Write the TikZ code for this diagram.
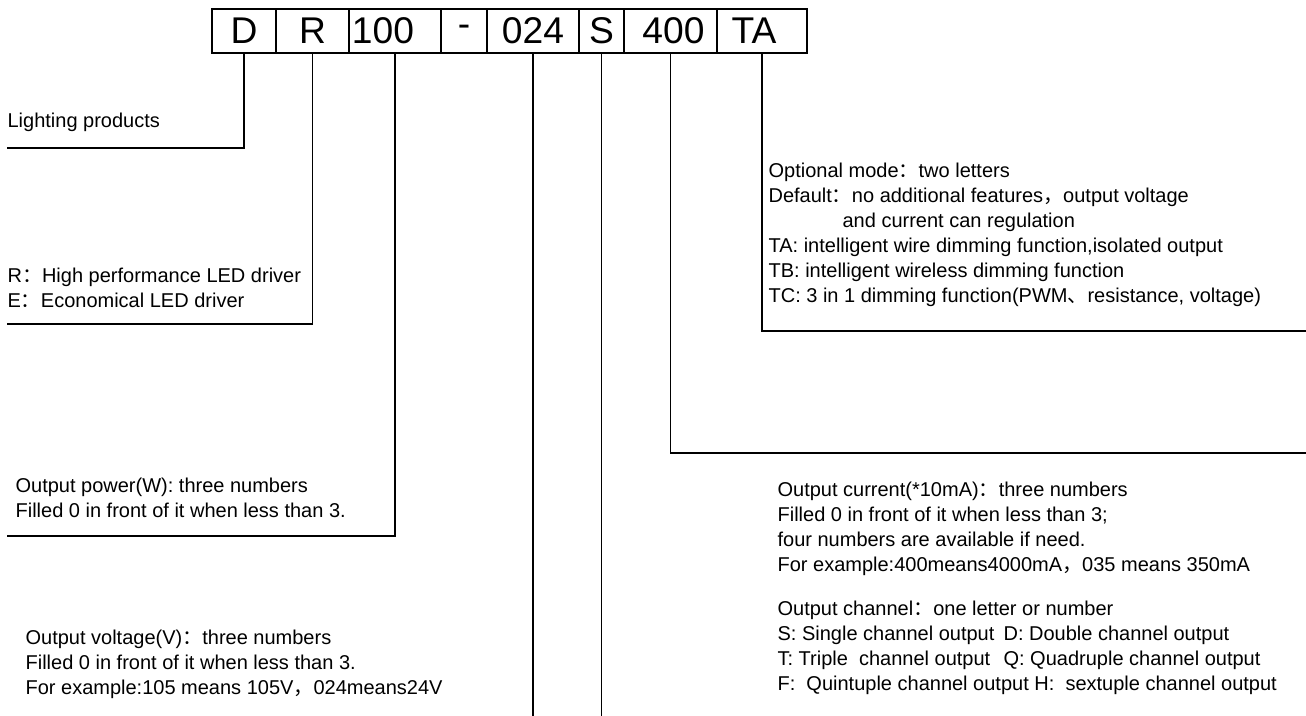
\documentclass[tikz,border=0pt]{standalone}
\usepackage{fontspec}
\setmainfont{Liberation Sans}
\newfontfamily\cjk{Noto Sans CJK SC}
\usetikzlibrary{positioning}
\newcommand{\fcolon}{{\cjk ：}} % full width colon
\newcommand{\fcomma}{{\cjk ，}} % full width comma
\newcommand{\fdun}{{\cjk 、}}
\tikzset{
  x=0.5pt, y=-0.5pt, % one unit is one pixel of the layout, y runs down
  every path/.style={line width=0.6pt},
  node distance=0pt, % the code cells touch each other
  cell/.style={draw, minimum height=22pt, inner sep=0pt, outer sep=0pt,
    font=\fontsize{18.6}{20}\selectfont}, % one field of the model code
  note/.style={anchor=west, align=left, inner sep=0pt,
    font=\fontsize{10}{12.5}\selectfont}, % explanation texts
}

\begin{document}
\begin{tikzpicture}
  \useasboundingbox (0,0) rectangle (1306,716);

  % the model code
  \node[cell, minimum width=32pt, anchor=north west] (d) at (212,9) {D};
  \node[cell, minimum width=36.5pt, right=of d] (r) {R};
  \node[cell, minimum width=46pt, right=of r] (p) {100\kern12pt};
  \node[cell, minimum width=23pt, right=of p] (dash) {-};
  \node[cell, minimum width=46pt, right=of dash] (v) {024};
  \node[cell, minimum width=22.5pt, right=of v] (s) {S};
  \node[cell, minimum width=46.5pt, right=of s] (i) {\kern3pt400};
  \node[cell, minimum width=45pt, right=of i] (t) {TA\kern8pt};

  % explanations
  \node[note] (light) at (7,122) {Lighting products};
  \node[note] (series) at (7,287.5) {R\fcolon High performance LED driver\\
    E\fcolon Economical LED driver};
  \node[note] (power) at (15,497.5) {Output power(W): three numbers\\
    Filled 0 in front of it when less than 3.};
  \node[note] (volt) at (25,664) {Output voltage(V)\fcolon three numbers\\
    Filled 0 in front of it when less than 3.\\
    For example:105 means 105V\fcomma 024means24V};
  \node[note] (mode) at (768,235) {Optional mode\fcolon two letters\\
    Default\fcolon no additional features\fcomma output voltage\\
    \hspace*{37pt}and current can regulation\\
    TA: intelligent wire dimming function,isolated output\\
    TB: intelligent wireless dimming function\\
    TC: 3 in 1 dimming function(PWM\fdun resistance, voltage)};
  \node[note] (current) at (777,529) {Output current(*10mA)\fcolon three numbers\\
    Filled 0 in front of it when less than 3;\\
    four numbers are available if need.\\
    For example:400means4000mA\fcomma 035 means 350mA};
  \node[note] (channel) at (777,648) {Output channel\fcolon one letter or number\\
    \makebox[113pt][l]{S: Single channel output}D: Double channel output\\
    \makebox[113pt][l]{T: Triple\ \ channel output}Q: Quadruple channel output\\
    F:\ \ Quintuple channel output H:\ \ sextuple channel output};

  % ends of the leader lines
  \coordinate (lightend) at (7,148);
  \coordinate (seriesend) at (7,324);
  \coordinate (powerend) at (7,536);
  \coordinate (bottom) at (0,716);
  \coordinate (currentend) at (1306,453);
  \coordinate (modeend) at (1306,331);

  \draw (d.south) |- (lightend);
  \draw (r.south) |- (seriesend);
  \draw (p.south) |- (powerend);
  \draw (v.south) -- (v.south |- bottom);
  \draw (s.south) -- (s.south |- bottom);
  \draw (i.south) |- (currentend);
  \draw (t.south) |- (modeend);
\end{tikzpicture}
\end{document}
